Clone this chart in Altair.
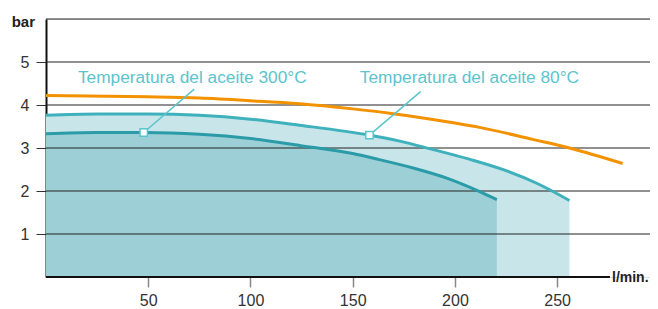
import altair as alt
import pandas as pd

# ---- data ----
flow_orange = [0, 50, 75, 100, 124, 150, 168, 200, 212, 238, 256, 282]
bar_orange = [4.22, 4.19, 4.16, 4.10, 4.03, 3.91, 3.81, 3.58, 3.48, 3.20, 3.00, 2.64]

flow_80 = [0, 25, 50, 75, 100, 124, 158, 173, 188, 207, 224, 240, 256]
bar_80 = [3.76, 3.79, 3.79, 3.76, 3.67, 3.53, 3.30, 3.16, 2.98, 2.74, 2.49, 2.18, 1.78]

flow_300 = [0, 25, 48, 75, 100, 124, 150, 163, 180, 196, 212.4, 220.5]
bar_300 = [3.33, 3.36, 3.36, 3.32, 3.22, 3.06, 2.87, 2.73, 2.53, 2.30, 1.98, 1.80]

label_text = ["Temperatura del aceite 300°C", "Temperatura del aceite 80°C"]
label_flow = [15.6, 153.5]
label_bar = [4.51, 4.51]
leader_flow = [72.5, 183.2]
leader_bar = [4.37, 4.31]
marker_flow = [47.8, 158.2]
marker_bar = [3.36, 3.30]

x_ticks = [50, 100, 150, 200, 250]
y_ticks = [1, 2, 3, 4, 5]
grid_vals = [1, 2, 3, 4, 5, 6]
x_max = 295.4
x_axis_end = 275.8

W, H = 604, 258
FONT = "Liberation Sans"
TEAL_TXT = "#5cc4cd"

df_or = pd.DataFrame({"flow": flow_orange, "bar": bar_orange})
df_80 = pd.DataFrame({"flow": flow_80, "bar": bar_80})
df_300 = pd.DataFrame({"flow": flow_300, "bar": bar_300})
df_lab = pd.DataFrame({"flow": label_flow, "bar": label_bar, "t": label_text})
df_lead = pd.DataFrame({"flow": leader_flow, "bar": leader_bar,
                        "flow2": marker_flow, "bar2": marker_bar})
df_mark = pd.DataFrame({"flow": marker_flow, "bar": marker_bar})
df_grid = pd.DataFrame({"bar": grid_vals})
df_xaxis = pd.DataFrame({"flow": [0], "flow2": [x_axis_end], "bar": [0]})

X = alt.X("flow:Q", scale=alt.Scale(domain=[0, x_max], nice=False, zero=True),
          axis=alt.Axis(values=x_ticks, domain=False, grid=False, tickSize=10,
                        tickColor="#888", tickWidth=1.5, labelFontSize=16,
                        labelColor="#333", labelPadding=5, title=None,
                        labelFont=FONT))
Y = alt.Y("bar:Q", scale=alt.Scale(domain=[0, 6], nice=False),
          axis=alt.Axis(values=y_ticks, domain=True, domainWidth=2,
                        domainColor="#111", grid=False, tickSize=10,
                        tickColor="#333", tickWidth=1, labelFontSize=16,
                        labelColor="#333", labelPadding=7, title=None,
                        labelFont=FONT))

area80 = alt.Chart(df_80).mark_area(color="#c8e5e9", interpolate="monotone").encode(x=X, y=Y)
area300 = alt.Chart(df_300).mark_area(color="#9dd0d6", interpolate="monotone").encode(x=X, y=Y)

grid = alt.Chart(df_grid).mark_rule(color="#222", strokeWidth=1).encode(
    y=Y, x=alt.value(0), x2=alt.value(W))

line_or = alt.Chart(df_or).mark_line(color="#f39200", strokeWidth=3,
                                     interpolate="monotone").encode(x=X, y=Y)
line80 = alt.Chart(df_80).mark_line(color="#3fb1bc", strokeWidth=3,
                                    interpolate="monotone").encode(x=X, y=Y)
line300 = alt.Chart(df_300).mark_line(color="#2a9ba7", strokeWidth=3,
                                      interpolate="monotone").encode(x=X, y=Y)

xaxis_line = alt.Chart(df_xaxis).mark_rule(color="#111", strokeWidth=2).encode(
    x=X, x2="flow2:Q", y=Y)

leaders = alt.Chart(df_lead).mark_rule(color=TEAL_TXT, strokeWidth=1.5).encode(
    x=X, y=Y, x2="flow2:Q", y2="bar2:Q")
markers = alt.Chart(df_mark).mark_point(shape="square", size=55, filled=True,
                                        fill="white", stroke=TEAL_TXT,
                                        strokeWidth=1.5, opacity=1).encode(x=X, y=Y)
labels = alt.Chart(df_lab).mark_text(align="left", baseline="alphabetic",
                                     fontSize=17.3, font=FONT, color=TEAL_TXT).encode(
    x=X, y=Y, text="t:N")

bar_title = alt.Chart(pd.DataFrame({"t": ["bar"]})).mark_text(
    align="right", baseline="alphabetic", fontSize=15, fontWeight="bold",
    font=FONT, color="#222").encode(text="t:N", x=alt.value(-11), y=alt.value(8))
unit_title = alt.Chart(pd.DataFrame({"t": ["l/min."]})).mark_text(
    align="left", baseline="alphabetic", fontSize=14, fontWeight="bold",
    font=FONT, color="#222").encode(text="t:N", x=alt.value(566), y=alt.value(263))

chart = alt.layer(
    area80, area300, grid, line_or, line80, line300, xaxis_line,
    leaders, markers, labels, bar_title, unit_title
).properties(
    width=W, height=H,
    autosize=alt.AutoSizeParams(type="none"),
    padding={"left": 38, "top": 11, "right": 0, "bottom": 32},
).configure_view(stroke=None).configure(font=FONT)

chart.save("out.html", embed_options={"renderer": "svg", "actions": False})
